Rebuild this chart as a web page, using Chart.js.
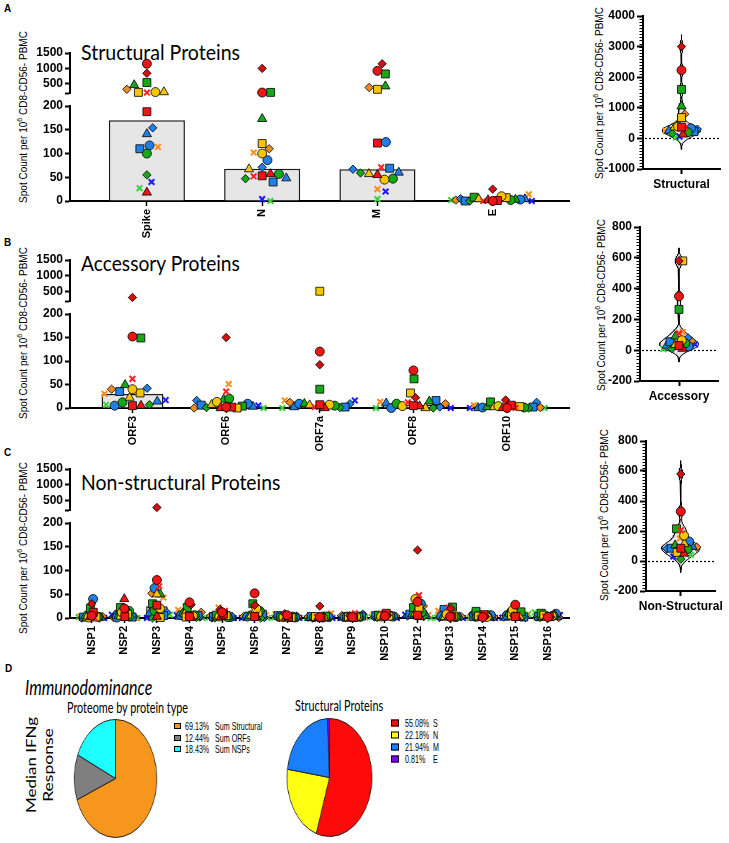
<!DOCTYPE html>
<html>
<head>
<meta charset="utf-8">
<script src="https://cdn.jsdelivr.net/npm/chart.js@4.4.1/dist/chart.umd.min.js"></script>
<style>
body{margin:0;background:#fff;}
#page{position:relative;width:729px;height:843px;overflow:hidden;font-family:'Liberation Sans',Arial,sans-serif;color:#000;}
canvas{position:absolute;}
.t{position:absolute;white-space:nowrap;}
.letter{font-weight:bold;font-size:10px;}
.fit{position:absolute;white-space:nowrap;transform-origin:0 50%;font-family:Lato,'Open Sans',sans-serif;line-height:1.2;}
.rot{position:absolute;white-space:nowrap;font-size:10px;transform:translate(-50%,-50%) rotate(-90deg);}
.rot sup{font-size:7px;line-height:0;}
.rfit{position:absolute;white-space:nowrap;font-family:Lato,'Open Sans',sans-serif;line-height:1.2;}
.leg{position:absolute;font-family:'Liberation Sans Narrow','Liberation Sans',Arial,sans-serif;font-size:10.5px;white-space:nowrap;transform-origin:0 50%;transform:translateY(-50%) scaleX(0.68);}
.box{position:absolute;border:1px solid #000;box-sizing:border-box;transform:translateY(-50%);}
</style>
</head>
<body>
<div id="page">
  <div class="t letter" style="left:4px;top:3px">A</div>
  <div class="t letter" style="left:4px;top:237px">B</div>
  <div class="t letter" style="left:4px;top:447px">C</div>
  <div class="t letter" style="left:5px;top:663px">D</div>

  <div class="fit" data-w="159" style="left:81px;top:52px;font-size:21px">Structural Proteins</div>
  <div class="fit" data-w="159" style="left:81px;top:263px;font-size:21px">Accessory Proteins</div>
  <div class="fit" data-w="199" style="left:81px;top:482px;font-size:21px">Non-structural Proteins</div>

  <div class="rot" style="left:23px;top:117px">Spot Count per 10<sup>6</sup> CD8-CD56- PBMC</div>
  <div class="rot" style="left:23px;top:333px">Spot Count per 10<sup>6</sup> CD8-CD56- PBMC</div>
  <div class="rot" style="left:23px;top:548px">Spot Count per 10<sup>6</sup> CD8-CD56- PBMC</div>
  <div class="rot" style="left:599px;top:93px">Spot Count per 10<sup>6</sup> CD8-CD56- PBMC</div>
  <div class="rot" style="left:601px;top:305px">Spot Count per 10<sup>6</sup> CD8-CD56- PBMC</div>
  <div class="rot" style="left:604px;top:515px">Spot Count per 10<sup>6</sup> CD8-CD56- PBMC</div>

  <canvas id="barA" width="576" height="250" style="left:0;top:0"></canvas>
  <canvas id="barB" width="576" height="250" style="left:0;top:210px"></canvas>
  <canvas id="barC" width="576" height="250" style="left:0;top:420px"></canvas>
  <canvas id="vioA" width="169" height="200" style="left:560px;top:0"></canvas>
  <canvas id="vioB" width="169" height="200" style="left:560px;top:212px"></canvas>
  <canvas id="vioC" width="169" height="200" style="left:560px;top:425px"></canvas>

  <div class="fit" data-w="127" style="left:25px;top:687px;font-size:21px;font-style:italic">Immunodominance</div>
  <div class="rfit" data-w="96" data-k="0.72" style="left:32px;top:765px;font-size:18px">Median IFNg</div>
  <div class="rfit" data-w="74" data-k="0.72" style="left:49px;top:765px;font-size:18px">Response</div>
  <div class="fit" data-w="121" style="left:67px;top:707px;font-size:15px">Proteome by protein type</div>
  <div class="fit" data-w="88" style="left:295px;top:705px;font-size:15px">Structural Proteins</div>

  <canvas id="pie1" width="119" height="119" style="left:56px;top:719px;transform:scaleX(0.70)"></canvas>
  <canvas id="pie2" width="119" height="119" style="left:270px;top:718px;transform:scaleX(0.72)"></canvas>
  <div id="leg1"></div>
  <div id="leg2"></div>
</div>

<script>
// donors: same symbol in every panel (columns of the value tables below)
const donorShape = ['circle','rect','triangle','rectRot','crossRot',
                    'circle','rect','triangle',
                    'circle','rect','triangle','rectRot',
                    'circle','rect','triangle','rectRot',
                    'rectRot','crossRot','crossRot','crossRot'];
const donorColor = ['#f01414','#f01414','#f01414','#d40f0f','#ff2020',
                    '#f7c600','#f7c600','#f7c600',
                    '#17a817','#17a817','#17a817','#17a817',
                    '#1f80e8','#1f80e8','#1f80e8','#1f80e8',
                    '#f08a1c','#ff8c1a','#1a1aff','#3ccf3c'];

// panel A
const structCats = ['Spike','N','M','E'];
const structMedian = [170, 68, 67, 2];
const structVals = [
  [1150,188,18,840,215,230,220,230,100,540,460,55,117,110,141,154,320,114,40,27],
  [215,53,57,1000,52,100,121,67,57,220,173,47,86,40,48,71,110,102,4,0],
  [920,122,55,1150,71,45,320,57,47,820,420,59,124,69,60,67,380,25,20,4],
  [0,1,2,25,0,10,7,4,2,8,3,0,3,0,4,5,2,14,0,2]
];
const structViolin = [2230,370,130,3000,350,385,680,360,200,1600,1050,160,330,220,250,300,790,250,60,30];

// panel B
const accCats = ['ORF3','ORF6','ORF7a','ORF8','ORF10'];
const accMedian = [30, 3, 5, 7, 1];
const accVals = [
  [152,5,5,310,62,40,32,22,12,149,49,7,5,35,14,42,40,30,17,7],
  [2,2,0,150,35,13,0,7,20,4,18,1,9,6,3,16,0,51,5,0],
  [120,7,0,92,2,7,510,6,5,40,9,1,9,2,2,9,12,16,16,0],
  [80,5,4,22,12,4,32,0,9,62,14,0,0,16,10,2,9,13,0,0],
  [0,6,0,17,0,4,3,2,1,13,2,0,1,2,0,12,1,6,0,0]
];
const accViolin = [350,30,10,580,110,65,580,35,45,265,90,10,25,55,30,80,60,118,38,8];

// panel C
const nspCats = ['NSP1','NSP2','NSP3','NSP4','NSP5','NSP6','NSP7','NSP8','NSP9','NSP10','NSP12','NSP13','NSP14','NSP15','NSP16'];
const nspMedian = [2,3,25,3,3,3,2,1,1,3,8,2,2,3,3];
const nspVals = [
  [5,12,2,30,0,1,2,0,3,20,4,0,40,2,1,0,3,3,0,2],
  [20,3,40,18,0,12,8,3,15,22,5,2,1,2,6,3,1,0,7,0],
  [80,27,3,280,67,20,1,50,15,30,50,0,63,5,10,12,52,43,0,7],
  [33,3,2,28,5,4,2,8,6,22,10,1,6,5,3,2,12,17,6,0],
  [12,8,2,18,15,3,5,2,2,6,3,0,2,3,1,0,4,22,0,1],
  [52,3,2,27,4,20,12,5,15,30,4,0,3,8,2,1,3,6,0,0],
  [6,2,1,9,3,2,1,0,3,2,0,1,1,5,2,3,2,8,0,1],
  [2,1,0,25,2,1,3,1,2,4,1,0,2,3,0,1,2,10,0,0],
  [2,1,0,5,10,3,2,1,3,2,0,1,2,4,1,8,5,3,0,1],
  [4,10,2,6,8,3,4,1,5,6,3,1,3,5,2,2,4,7,0,2],
  [34,6,2,143,48,40,20,10,12,22,8,3,30,8,5,4,25,6,7,0],
  [3,2,1,20,22,8,4,2,2,23,3,1,4,18,2,1,3,15,0,1],
  [2,7,1,3,0,2,4,5,3,14,2,1,6,3,1,8,2,1,0,0],
  [28,3,2,5,4,17,6,2,8,13,10,3,6,2,1,1,2,6,1,8],
  [2,3,1,2,3,4,6,2,5,10,6,1,9,3,2,2,1,2,6,12]
];
const nspViolin = [330,85,50,580,205,170,57,115,80,215,105,13,130,85,95,82,92,150,30,42];

// broken axis ticks
const BREAK = 200;
const hiTicks = [200, 500, 1000, 1500];

// panel D
const proteomeLabels = ['Sum Structural','Sum ORFs','Sum NSPs'];
const proteomeShare = [69.13, 12.44, 18.43];
const proteomeColors = ['#f7961c','#7f7f7f','#1effff'];
const structLabels = ['S','N','M','E'];
const structShare = [55.08, 22.18, 21.94, 0.81];
const structColors = ['#ff0a0a','#ffff14','#1a7fff','#8000ff'];

const FAM = "'Liberation Sans', Arial, sans-serif";
const tickFont = {family: FAM, size: 12, weight: 'bold'};
const catFont = {family: FAM, size: 11, weight: 'bold'};

function markerStyle(d) {
  const s = donorShape[d], col = donorColor[d];
  const cross = s === 'crossRot';
  const r = {circle: 4.5, rect: 5.6, triangle: 5.3, rectRot: 4.2, crossRot: 4}[s];
  return {
    pointStyle: s, pointRadius: r,
    pointBackgroundColor: col,
    pointBorderColor: cross ? col : '#000',
    pointBorderWidth: cross ? 2 : 0.8
  };
}

// simple beeswarm, pixel units
function swarm(ys, d, maxHalf) {
  const xs = [];
  ys.forEach((y, i) => {
    const cands = [0];
    for (let j = 0; j < i; j++) {
      const dy = y - ys[j];
      if (Math.abs(dy) < d) {
        const dx = Math.sqrt(d * d - dy * dy);
        cands.push(xs[j] + dx, xs[j] - dx);
      }
    }
    cands.sort((a, b) => Math.abs(a) - Math.abs(b));
    const ok = cands.find(c => xs.every((x, j) => (x - c) ** 2 + (ys[j] - y) ** 2 >= d * d - 0.5));
    xs.push(ok === undefined ? 0 : ok);
  });
  const m = Math.max(0.001, ...xs.map(Math.abs));
  const k = m > maxHalf ? maxHalf / m : 1;
  return xs.map(x => x * k);
}

function barPanel(id, cats, vals, medians, g) {
  const n = cats.length;
  const ds = [{
    type: 'bar', data: medians.map((m, c) => ({x: c, y: m})), xAxisID: 'x', yAxisID: 'yLo',
    backgroundColor: '#e6e6e6', borderColor: '#1a1a1a', borderWidth: 1.5,
    categoryPercentage: 1, barPercentage: 0.66, order: 2
  }];
  donorShape.forEach((s, d) => {
    ['yLo', 'yHi'].forEach(ax => {
      const pts = [];
      vals.forEach((row, c) => {
        const v = row[d];
        if ((v > BREAK) === (ax === 'yHi')) pts.push({x: c, y: v, c: c});
      });
      ds.push(Object.assign({type: 'scatter', data: pts, xAxisID: 'x', yAxisID: ax, order: 1, clip: false}, markerStyle(d)));
    });
  });
  const yBase = {
    type: 'linear', position: 'left', stack: 'brk', beginAtZero: false,
    afterFit: s => { s.width = 45; },
    grid: {drawOnChartArea: false, tickLength: 5, tickWidth: 2, tickColor: '#000'},
    border: {color: '#000', width: 2}
  };
  const chart = new Chart(document.getElementById(id), {
    type: 'bar',
    data: {datasets: ds},
    options: {
      responsive: false, animation: false, events: [],
      layout: {padding: g.pad},
      plugins: {legend: {display: false}, tooltip: {enabled: false}},
      scales: {
        // left stack is laid out bottom-up: low segment, gap, high segment
        yLo: Object.assign({}, yBase, {
          stackWeight: g.w[2], min: 0, max: BREAK,
          ticks: {stepSize: 50, autoSkip: false, font: tickFont, color: '#000', padding: 2, callback: v => String(v)}
        }),
        yGap: Object.assign({}, yBase, {stackWeight: g.w[1], display: false}),
        yHi: Object.assign({}, yBase, {
          stackWeight: g.w[0], min: BREAK, max: 1500,
          afterBuildTicks: s => { s.ticks = hiTicks.map(v => ({value: v})); },
          ticks: {autoSkip: false, font: tickFont, color: '#000', padding: 2, callback: v => v === BREAK ? '' : String(v)}
        }),
        x: {
          type: 'linear', offset: false, min: -0.667, max: n - 1 + 0.667,
          afterBuildTicks: s => { s.ticks = cats.map((_, i) => ({value: i})); },
          afterFit: s => { s.height = 45; },
          ticks: {autoSkip: false, minRotation: 90, maxRotation: 90, font: catFont, color: '#000', padding: 3, callback: v => cats[v]},
          grid: {offset: false, drawOnChartArea: false, tickLength: 5, tickWidth: 1.5, tickColor: '#000'},
          border: {color: '#000', width: 2}
        }
      }
    }
  });
  // spread the dots of each column sideways
  const xs = chart.scales.x;
  const unit = xs.getPixelForValue(1) - xs.getPixelForValue(0);
  for (let c = 0; c < n; c++) {
    const pts = [];
    chart.data.datasets.forEach(set => {
      if (set.type !== 'scatter') return;
      set.data.forEach(p => { if (p.c === c) pts.push({p: p, y: chart.scales[set.yAxisID].getPixelForValue(p.y)}); });
    });
    const offs = swarm(pts.map(q => q.y), 8.5, g.spread * unit);
    pts.forEach((q, i) => { q.p.x = c + offs[i] / unit; });
  }
  chart.data.datasets.forEach(set => { if (set.type === 'scatter') set.data = set.data.map(p => Object.assign({}, p)); });
  chart.update('none');
}

const violinAxis = {
  id: 'violinAxis',
  beforeDatasetsDraw(chart) {
    const {ctx, chartArea} = chart;
    const y = Math.round(chart.scales.y.getPixelForValue(0)) + 0.5;
    ctx.save();
    ctx.strokeStyle = '#000'; ctx.lineWidth = 1.2; ctx.setLineDash([2, 2]);
    ctx.beginPath(); ctx.moveTo(chartArea.left + 2, y); ctx.lineTo(chartArea.right, y); ctx.stroke();
    ctx.restore();
  },
  afterDraw(chart, args, opts) {
    const s = chart.scales.y, ctx = chart.ctx;
    ctx.save();
    ctx.strokeStyle = '#000'; ctx.lineWidth = 1;
    for (let v = s.min; v <= s.max + 1e-6; v += opts.minor) {
      const y = Math.round(s.getPixelForValue(v)) + 0.5;
      ctx.beginPath(); ctx.moveTo(s.right - 3.5, y); ctx.lineTo(s.right, y); ctx.stroke();
    }
    ctx.restore();
  }
};

function kdeOutline(vals, h, halfW) {
  const lo = Math.min(...vals) - 3 * h, hi = Math.max(...vals) + 3 * h;
  const steps = 240, ys = [], dens = [];
  for (let i = 0; i <= steps; i++) {
    const y = lo + (hi - lo) * i / steps;
    ys.push(y);
    dens.push(vals.reduce((s, v) => s + Math.exp(-0.5 * ((y - v) / h) ** 2), 0));
  }
  const m = Math.max(...dens);
  const right = ys.map((y, i) => ({x: dens[i] / m * halfW, y: y}));
  const left = right.slice().reverse().map(p => ({x: -p.x, y: p.y}));
  return right.concat(left, [right[0]]);
}

function violinPanel(id, cat, values, o) {
  const ds = [{
    type: 'scatter', data: kdeOutline(values, o.bw, o.halfW), showLine: true, fill: 'shape',
    backgroundColor: '#e6e6e6', borderColor: '#000', borderWidth: 1, pointRadius: 0, order: 3, clip: false
  }];
  values.forEach((v, d) => ds.push(Object.assign({type: 'scatter', data: [{x: 0, y: v}], order: 1, clip: false}, markerStyle(d))));
  const chart = new Chart(document.getElementById(id), {
    type: 'scatter',
    data: {datasets: ds},
    options: {
      responsive: false, animation: false, events: [],
      layout: {padding: o.pad},
      plugins: {legend: {display: false}, tooltip: {enabled: false}, violinAxis: {minor: o.minor}},
      scales: {
        x: {
          type: 'linear', min: -1, max: 1,
          afterBuildTicks: s => { s.ticks = [{value: 0}]; },
          afterFit: s => { s.height = 25; },
          ticks: {maxRotation: 0, font: tickFont, color: '#000', padding: 3, callback: () => cat},
          grid: {drawOnChartArea: false, tickLength: 5, tickWidth: 2, tickColor: '#000'},
          border: {color: '#000', width: 2}
        },
        y: {
          type: 'linear', min: o.min, max: o.max,
          afterFit: s => { s.width = 40; },
          ticks: {stepSize: o.major, autoSkip: false, font: tickFont, color: '#000', padding: 2, callback: v => String(v)},
          grid: {drawOnChartArea: false, tickLength: 6, tickWidth: 2, tickColor: '#000'},
          border: {color: '#000', width: 2}
        }
      }
    },
    plugins: [violinAxis]
  });
  const xs = chart.scales.x, ys = chart.scales.y;
  const unit = xs.getPixelForValue(1) - xs.getPixelForValue(0);
  const offs = swarm(values.map(v => ys.getPixelForValue(v)), 8, 16);
  chart.data.datasets.forEach((set, k) => {
    if (k === 0) return;
    set.data = [{x: offs[k - 1] / unit, y: set.data[0].y}];
  });
  chart.update('none');
}

function pie(id, shares, colors) {
  new Chart(document.getElementById(id), {
    type: 'pie',
    data: {labels: shares.map(String), datasets: [{data: shares, backgroundColor: colors, borderColor: '#222', borderWidth: 1}]},
    options: {responsive: false, animation: false, events: [], layout: {padding: 0},
      plugins: {legend: {display: false}, tooltip: {enabled: false}}}
  });
}

function legend(id, labels, shares, colors, g) {
  const host = document.getElementById(id);
  labels.forEach((l, i) => {
    const cy = g.top + i * g.step;
    host.insertAdjacentHTML('beforeend',
      `<div class="box" style="left:${g.box}px;top:${cy}px;width:${g.bw}px;height:${g.bh}px;background:${colors[i]}"></div>` +
      `<div class="leg" style="left:${g.pct}px;top:${cy}px">${shares[i].toFixed(2)}%</div>` +
      `<div class="leg" style="left:${g.lab}px;top:${cy}px">${l}</div>`);
  });
}

// squeeze free text to the width it has in the figure
document.querySelectorAll('.fit').forEach(el => {
  const k = +el.dataset.w / el.offsetWidth;
  el.style.transform = `translateY(-50%) scaleX(${k})`;
});
document.querySelectorAll('.rfit').forEach(el => {
  const k = +el.dataset.w / el.offsetWidth;
  el.style.transform = `translate(-50%,-50%) rotate(-90deg) scale(${k},${el.dataset.k})`;
});

barPanel('barA', structCats, structVals, structMedian, {pad: {left: 25, top: 53, right: 6, bottom: 4}, w: [40, 13, 95], spread: 0.36});
barPanel('barB', accCats, accVals, accMedian, {pad: {left: 25, top: 50, right: 6, bottom: 7}, w: [41, 13, 94], spread: 0.4});
barPanel('barC', nspCats, nspVals, nspMedian, {pad: {left: 25, top: 49, right: 6, bottom: 7}, w: [41, 13, 95], spread: 0.4});

violinPanel('vioA', 'Structural', structViolin, {min: -1000, max: 4000, major: 1000, minor: 100, bw: 130, halfW: 0.5, pad: {left: 43, top: 16, right: 9, bottom: 6}});
violinPanel('vioB', 'Accessory', accViolin, {min: -200, max: 800, major: 200, minor: 20, bw: 28, halfW: 0.5, pad: {left: 40, top: 15, right: 11, bottom: 6}});
violinPanel('vioC', 'Non-Structural', nspViolin, {min: -200, max: 800, major: 200, minor: 20, bw: 30, halfW: 0.55, pad: {left: 46, top: 16, right: 6, bottom: 9}});

pie('pie1', proteomeShare, proteomeColors);
pie('pie2', structShare, structColors);
legend('leg1', proteomeLabels, proteomeShare, proteomeColors, {top: 726, step: 11.5, box: 174, bw: 7, bh: 6, pct: 185, lab: 215});
legend('leg2', structLabels, structShare, structColors, {top: 723, step: 12, box: 391, bw: 8, bh: 7, pct: 405, lab: 433});
</script>
</body>
</html>
